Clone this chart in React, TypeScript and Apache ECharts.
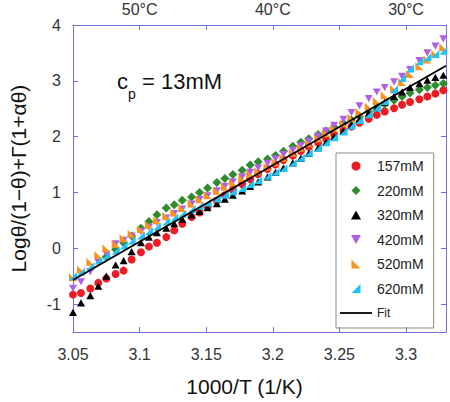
import React, { useEffect, useRef } from 'react';
import * as echarts from 'echarts';

// 1000/T grid shared by all concentration series
const invT = [
  3.050, 3.056, 3.063, 3.069, 3.075, 3.082, 3.088, 3.094, 3.101, 3.107,
  3.113, 3.120, 3.126, 3.132, 3.139, 3.145, 3.151, 3.158, 3.164, 3.170,
  3.177, 3.183, 3.189, 3.196, 3.202, 3.208, 3.215, 3.221, 3.227, 3.234,
  3.240, 3.246, 3.253, 3.259, 3.265, 3.272, 3.278, 3.284, 3.291, 3.297,
  3.303, 3.310, 3.316, 3.322, 3.328,
];

const y157 = [
  -0.83, -0.80, -0.72, -0.62, -0.54, -0.46, -0.40, -0.20, -0.07, 0.03,
  0.10, 0.20, 0.32, 0.44, 0.56, 0.64, 0.74, 0.85, 0.95, 1.05,
  1.15, 1.24, 1.33, 1.42, 1.50, 1.58, 1.66, 1.74, 1.82, 1.89,
  1.96, 2.04, 2.11, 2.18, 2.25, 2.32, 2.39, 2.45, 2.51, 2.57,
  2.62, 2.67, 2.72, 2.77, 2.83,
];
const y220 = [
  null, null, null, null, -0.15, -0.02, 0.10, 0.22, 0.36, 0.48,
  0.60, 0.72, 0.78, 0.86, 0.92, 1.00, 1.08, 1.18, 1.25, 1.32,
  1.40, 1.49, 1.55, 1.60, 1.66, 1.74, 1.83, 1.90, 1.96, 2.04,
  2.10, 2.17, 2.24, 2.30, 2.37, 2.44, 2.52, 2.58, 2.65, 2.72,
  2.78, 2.84, 2.88, 2.92, 2.95,
];
const y320 = [
  -1.15, -0.98, -0.85, -0.68, -0.50, -0.30, -0.22, -0.06, 0.10, 0.20,
  0.28, 0.36, 0.44, 0.52, 0.60, 0.66, 0.73, 0.80, 0.88, 0.95,
  1.03, 1.11, 1.19, 1.28, 1.36, 1.44, 1.53, 1.61, 1.70, 1.80,
  1.90, 2.00, 2.10, 2.20, 2.31, 2.42, 2.52, 2.62, 2.72, 2.80,
  2.88, 2.95, 3.01, 3.06, 3.10,
];
const y420 = [
  -0.72, -0.60, -0.42, -0.25, -0.10, 0.08, 0.14, 0.22, 0.30, 0.38,
  0.46, 0.54, 0.62, 0.70, 0.79, 0.87, 0.94, 1.03, 1.11, 1.19,
  1.28, 1.36, 1.44, 1.52, 1.60, 1.68, 1.76, 1.84, 1.92, 2.01,
  2.10, 2.20, 2.31, 2.43, 2.55, 2.68, 2.80, 2.88, 2.98, 3.08,
  3.20, 3.36, 3.50, 3.62, 3.75,
];
const y520 = [
  -0.52, -0.38, -0.24, -0.12, 0.00, 0.08, 0.18, 0.26, 0.34, 0.42,
  0.50, 0.58, 0.64, 0.72, 0.80, 0.88, 0.95, 1.03, 1.10, 1.18,
  1.26, 1.33, 1.38, 1.46, 1.54, 1.62, 1.71, 1.80, 1.88, 1.97,
  2.06, 2.15, 2.24, 2.34, 2.44, 2.54, 2.64, 2.74, 2.86, 2.98,
  3.12, 3.26, 3.38, 3.48, 3.60,
];
const y620 = [
  -0.50, -0.42, -0.32, -0.22, -0.13, -0.04, 0.05, 0.14, 0.23, 0.31,
  0.39, 0.48, 0.55, 0.62, 0.70, 0.76, 0.82, 0.89, 0.96, 1.02,
  1.08, 1.15, 1.22, 1.30, 1.37, 1.44, 1.53, 1.62, 1.71, 1.80,
  1.90, 1.99, 2.09, 2.20, 2.30, 2.40, 2.52, 2.64, 2.85, 3.05,
  3.22, 3.35, 3.42, 3.48, 3.54,
];

const fitX = [3.05, 3.33];
const fitY = [-0.57, 3.27];

const seriesNames = ['157mM', '220mM', '320mM', '420mM', '520mM', '620mM'];
const fitName = 'Fit';

const xTicks = [3.05, 3.1, 3.15, 3.2, 3.25, 3.3];
const xTickLabels = ['3.05', '3.1', '3.15', '3.2', '3.25', '3.3'];
const topTicks = [3.1, 3.15, 3.2, 3.25, 3.3];
const topLabelValues = [3.1, 3.2, 3.3];
const topLabels = ['50°C', '40°C', '30°C'];
const yTicks = [-1, 0, 1, 2, 3, 4];

const FONT = '"Liberation Sans", Arial, sans-serif';
const AX = '#6e6edc';

const pick = (v: number, vals: number[], labels: string[]) => {
  for (let i = 0; i < vals.length; i++) if (Math.abs(v - vals[i]) < 1e-6) return labels[i];
  return '';
};

const toPairs = (ys: (number | null)[]) =>
  invT.map((x, i) => (ys[i] == null ? null : [x, ys[i]])).filter((p) => p !== null);

export default function App() {
  const ref = useRef<HTMLDivElement>(null);
  useEffect(() => {
    document.body.style.margin = '0';
    const chart = echarts.init(ref.current!, null, { renderer: 'svg' });
    const styles = [
      { color: '#ec1c24', symbol: 'circle', size: 8 },
      { color: '#2e8b2e', symbol: 'path://M5,0 L10,5 L5,10 L0,5 Z', size: [9, 9] },
      { color: '#000000', symbol: 'path://M5,0 L10,9 L0,9 Z', size: [8, 8] },
      { color: '#b060e2', symbol: 'path://M0,0 L10,0 L5,9 Z', size: [8, 8] },
      { color: '#f7941d', symbol: 'path://M0,0 L0,10 L10,10 Z', size: [8, 8] },
      { color: '#22c2f2', symbol: 'path://M10,0 L0,10 L10,10 Z', size: [8, 8] },
    ];
    const dataSets = [y157, y220, y320, y420, y520, y620];
    const scatter = seriesNames.map((name, i) => ({
      name,
      type: 'scatter',
      data: toPairs(dataSets[i]),
      symbol: styles[i].symbol,
      symbolSize: styles[i].size,
      symbolKeepAspect: true,
      itemStyle: { color: styles[i].color, opacity: 1 },
      xAxisIndex: 0,
      yAxisIndex: 0,
    }));
    const axisCommon = {
      axisLine: { show: true, onZero: false, lineStyle: { color: AX, width: 1 } },
      splitLine: { show: false },
    };
    chart.setOption({
      animation: false,
      backgroundColor: '#ffffff',
      grid: { left: 64, right: 4, top: 25, bottom: 67 },
      legend: {
        orient: 'vertical',
        left: 336,
        top: 153,
        padding: [5, 10, 7, 4],
        borderColor: '#8c8c8c',
        borderWidth: 1,
        itemGap: 8.5,
        itemWidth: 32,
        itemHeight: 9,
        symbolKeepAspect: true,
        data: [
          ...seriesNames.map((n) => ({ name: n })),
          {
            name: fitName,
            icon: 'path://M0,0 L32,0 L32,1.8 L0,1.8 Z',
            itemStyle: { color: '#000' },
            textStyle: { fontSize: 12 },
          },
        ],
        textStyle: { fontSize: 14, color: '#222', fontFamily: FONT, lineHeight: 16 },
      },
      xAxis: [
        {
          ...axisCommon,
          type: 'value',
          min: 3.05,
          max: 3.33,
          position: 'bottom',
          axisTick: { show: true, inside: true, length: 5, customValues: xTicks, lineStyle: { color: AX } },
          axisLabel: {
            customValues: xTicks,
            formatter: (v: number) => pick(v, xTicks, xTickLabels),
            fontSize: 16,
            color: '#333',
            fontFamily: FONT,
            margin: 14,
          },
          name: '1000/T (1/K)',
          nameLocation: 'middle',
          nameGap: 44,
          nameTextStyle: { fontSize: 21, color: '#111', fontFamily: FONT, padding: [0, 30, 0, 0] },
        },
        {
          ...axisCommon,
          type: 'value',
          min: 3.05,
          max: 3.33,
          position: 'top',
          axisTick: { show: true, inside: true, length: 5, customValues: topTicks, lineStyle: { color: AX } },
          axisLabel: {
            customValues: topLabelValues,
            formatter: (v: number) => pick(v, topLabelValues, topLabels),
            fontSize: 16,
            color: '#333',
            fontFamily: FONT,
            margin: 8,
          },
        },
      ],
      yAxis: [
        {
          ...axisCommon,
          type: 'value',
          min: -1.5,
          max: 4,
          position: 'left',
          axisTick: { show: true, inside: true, length: 5, customValues: yTicks, lineStyle: { color: AX } },
          axisLabel: {
            customValues: yTicks,
            fontSize: 16,
            color: '#333',
            fontFamily: FONT,
            margin: 12,
          },
          name: 'Logθ/(1−θ)+Γ(1+αθ)',
          nameLocation: 'middle',
          nameGap: 44,
          nameRotate: 90,
          nameTextStyle: { fontSize: 21, color: '#111', fontFamily: FONT },
        },
        {
          ...axisCommon,
          type: 'value',
          min: -1.5,
          max: 4,
          position: 'right',
          axisTick: { show: true, inside: true, length: 5, customValues: yTicks, lineStyle: { color: AX } },
          axisLabel: { show: false },
        },
      ],
      graphic: [
        { type: 'text', left: 117, top: 70, style: { text: 'c', fontSize: 22, fontFamily: FONT, fill: '#111' } },
        { type: 'text', left: 128, top: 87, style: { text: 'p', fontSize: 14, fontFamily: FONT, fill: '#111' } },
        { type: 'text', left: 142, top: 70, style: { text: '= 13mM', fontSize: 22, fontFamily: FONT, fill: '#111' } },
      ],
      series: [
        ...scatter,
        {
          name: fitName,
          type: 'line',
          data: fitX.map((x, i) => [x, fitY[i]]),
          symbol: 'none',
          lineStyle: { color: '#000', width: 1.8 },
          itemStyle: { color: '#000' },
          xAxisIndex: 0,
          yAxisIndex: 0,
          z: 5,
        },
      ],
    });
    return () => chart.dispose();
  }, []);
  return <div ref={ref} style={{ position: 'absolute', left: 0, top: 0, width: 450, height: 402 }} />;
}
